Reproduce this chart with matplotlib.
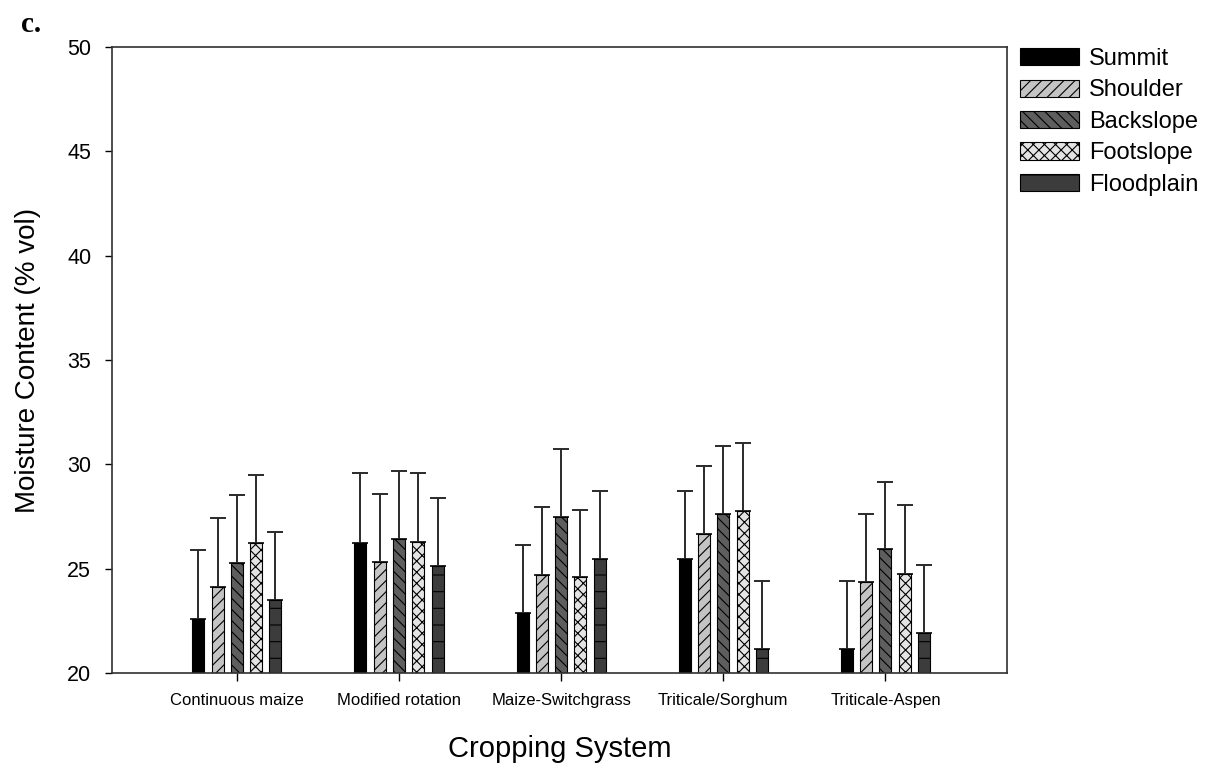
import numpy as np
import matplotlib.pyplot as plt
from matplotlib.patches import Patch

plt.rcParams['font.family'] = ['Liberation Sans', 'DejaVu Sans']
plt.rcParams['hatch.linewidth'] = 0.8

systems = ["Continuous maize", "Modified rotation", "Maize-Switchgrass",
           "Triticale/Sorghum", "Triticale-Aspen"]
positions = ["Summit", "Shoulder", "Backslope", "Footslope", "Floodplain"]

# mean moisture per landscape position, one entry per cropping system
summit     = [22.60, 26.24, 22.89, 25.46, 21.15]
shoulder   = [24.14, 25.32, 24.71, 26.65, 24.35]
backslope  = [25.26, 26.44, 27.49, 27.62, 25.96]
footslope  = [26.24, 26.29, 24.61, 27.76, 24.76]
floodplain = [23.50, 25.13, 25.46, 21.15, 21.93]

# upper error (sd)
summit_err     = [3.28, 3.33, 3.26, 3.28, 3.26]
shoulder_err   = [3.27, 3.26, 3.26, 3.27, 3.25]
backslope_err  = [3.25, 3.25, 3.26, 3.27, 3.19]
footslope_err  = [3.26, 3.28, 3.21, 3.26, 3.28]
floodplain_err = [3.27, 3.24, 3.28, 3.26, 3.23]

means = [summit, shoulder, backslope, footslope, floodplain]
errs = [summit_err, shoulder_err, backslope_err, footslope_err, floodplain_err]
faces = ['#000000', '#c4c4c4', '#5e5e5e', '#e4e4e4', '#3c3c3c']
hatches = [None, '///', '\\\\\\', 'xxx', '-']

fig = plt.figure(figsize=(12.17, 7.71), dpi=100)
ax = fig.add_axes([0.092, 0.127, 0.7355, 0.812])

x = np.arange(len(systems))
step = 0.119
width = 0.074
for i in range(len(positions)):
    xi = x + (i - 2) * step
    ax.bar(xi, means[i], width, bottom=0, color=faces[i], edgecolor='black',
           linewidth=0.8, hatch=hatches[i], zorder=2)
    ax.errorbar(xi, means[i], yerr=[np.zeros(len(systems)), errs[i]], fmt='none',
                ecolor='#2a2a2a', elinewidth=1.4, capsize=6, capthick=1.4, zorder=1)

ax.set_ylim(20, 50)
ax.set_xlim(-0.77, 4.75)
ax.set_yticks(np.arange(20, 51, 5))
ax.set_xticks(x)
ax.set_xticklabels(systems, fontsize=12)
ax.tick_params(axis='y', labelsize=15.5, direction='out', length=5, width=1, pad=10)
ax.tick_params(axis='x', direction='out', length=6, width=1, pad=8)
for s in ax.spines.values():
    s.set_linewidth(1.2)
    s.set_color('#303030')

ax.set_ylabel("Moisture Content (% vol)", fontsize=20, labelpad=19)
ax.set_xlabel("Cropping System", fontsize=21, labelpad=20)

handles = [Patch(facecolor=faces[i], edgecolor='black', hatch=hatches[i], linewidth=0.8)
           for i in range(len(positions))]
fig.legend(handles, positions, loc='upper left', bbox_to_anchor=(0.830, 0.950),
           frameon=False, fontsize=17, handlelength=2.5, handleheight=0.75,
           labelspacing=0.4, handletextpad=0.45, borderaxespad=0)

fig.text(0.017, 0.958, "c.", fontsize=21, fontweight='bold', family='Liberation Serif')

fig.savefig("out.png", dpi=100)
